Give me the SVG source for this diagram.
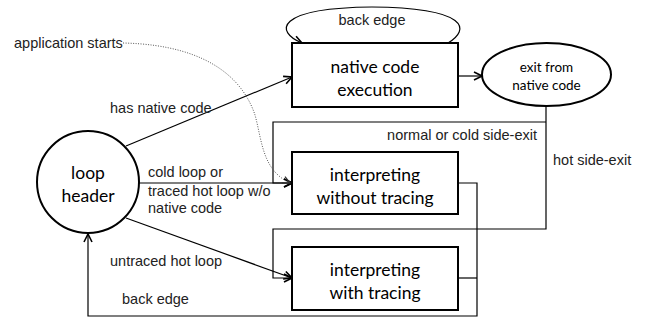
<svg xmlns="http://www.w3.org/2000/svg" width="645" height="321" viewBox="0 0 645 321">
<style>
.box{fill:#fff;stroke:#000;stroke-width:2}
.ln{fill:none;stroke:#000;stroke-width:1.2}
.dot{fill:none;stroke:#555;stroke-width:1;stroke-dasharray:1 1.5}
.lbl{font-family:"Liberation Sans",Arial,sans-serif;font-size:14.5px;fill:#222}
.nt{font-family:Lato,"Open Sans",sans-serif;font-size:17.5px;fill:#000;text-anchor:middle}
.st{font-family:Lato,"Open Sans",sans-serif;font-size:13.5px;fill:#000;text-anchor:middle}
</style>
<defs>
<marker id="ah" viewBox="0 0 10 10" refX="9" refY="5" markerWidth="10" markerHeight="10" markerUnits="userSpaceOnUse" orient="auto">
<path d="M1,1 L9,5 L1,9" fill="none" stroke="#000" stroke-width="1.6"/>
</marker>
<marker id="ahg" viewBox="0 0 10 10" refX="9" refY="5" markerWidth="9" markerHeight="9" markerUnits="userSpaceOnUse" orient="auto">
<path d="M1,1 L9,5 L1,9" fill="none" stroke="#333" stroke-width="1.4"/>
</marker>
</defs>
<g id="connectors">
<path class="ln" d="M448,43 C470,30 470,8 372,7 C274,8 275,32 302,43" marker-end="url(#ah)"/>
<path class="ln" d="M458,76 L482,76" marker-end="url(#ah)"/>
<path class="ln" d="M126,146 L292,77" marker-end="url(#ah)"/>
<path class="ln" d="M139,183 L292,183" marker-end="url(#ah)"/>
<path class="ln" d="M126,218 L292,278" marker-end="url(#ah)"/>
<path class="ln" d="M546,106 L546,229 L273,229 L273,278 L292,278" marker-end="url(#ah)"/>
<path class="ln" d="M546,122 L273,122 L273,183 L292,183" marker-end="url(#ah)"/>
<path class="ln" d="M458,183 L477,183 L477,316 L88,316 L88,234" marker-end="url(#ah)"/>
<path class="ln" d="M458,278 L477,278"/>
<path class="dot" d="M123,43 C215,45 245,85 255,115 C262,140 262,170 290,183" marker-end="url(#ahg)"/>
</g>
<g id="native">
<rect class="box" x="292" y="43" width="166" height="64"/>
<text class="nt" x="375" y="73">native code</text>
<text class="nt" x="375" y="96">execution</text>
</g>
<g id="exit">
<ellipse cx="546.5" cy="74.5" rx="64.5" ry="31.5" fill="#fff" stroke="#000" stroke-width="2"/>
<text class="st" x="546.5" y="72">exit from</text>
<text class="st" x="546.5" y="90">native code</text>
</g>
<g id="loop">
<circle cx="88" cy="182" r="51" fill="#fff" stroke="#000" stroke-width="2"/>
<text class="nt" x="88" y="179">loop</text>
<text class="nt" x="88" y="202">header</text>
</g>
<g id="without">
<rect class="box" x="292" y="152" width="166" height="62"/>
<text class="nt" x="375" y="181">interpreting</text>
<text class="nt" x="375" y="204">without tracing</text>
</g>
<g id="with">
<rect class="box" x="292" y="247" width="166" height="63"/>
<text class="nt" x="375" y="276">interpreting</text>
<text class="nt" x="375" y="299">with tracing</text>
</g>
<g id="labels">
<text class="lbl" x="14" y="48">application starts</text>
<text class="lbl" x="372" y="25" text-anchor="middle">back edge</text>
<text class="lbl" x="110" y="113">has native code</text>
<text class="lbl" x="537" y="140" text-anchor="end">normal or cold side-exit</text>
<text class="lbl" x="553" y="165">hot side-exit</text>
<text class="lbl" x="148" y="177">cold loop or</text>
<text class="lbl" x="148" y="196">traced hot loop w/o</text>
<text class="lbl" x="148" y="213">native code</text>
<text class="lbl" x="110" y="266">untraced hot loop</text>
<text class="lbl" x="122" y="304">back edge</text>
</g>
</svg>
